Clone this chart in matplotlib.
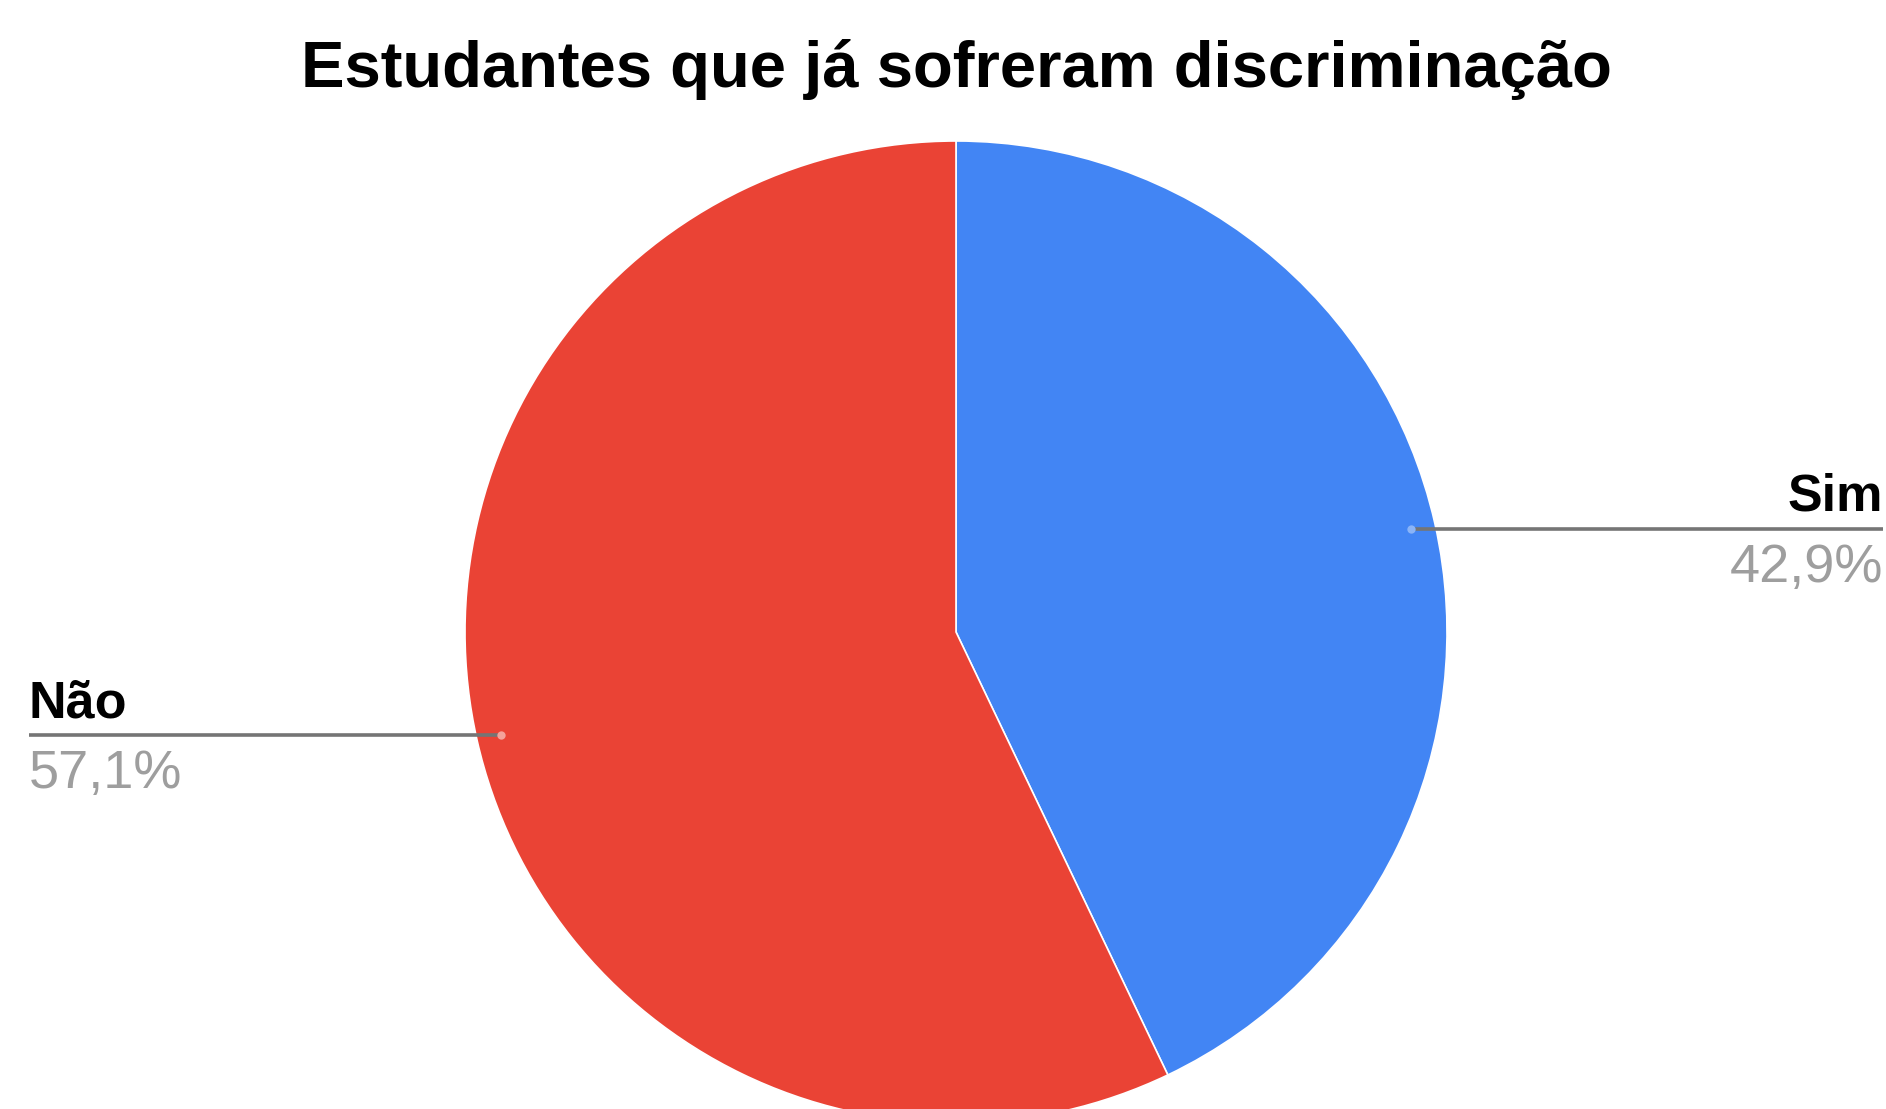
import numpy as np
import matplotlib
matplotlib.use("Agg")
import matplotlib.pyplot as plt

# Survey answers
title = "Estudantes que já sofreram discriminação"
categories = ["Sim", "Não"]
shares = [42.9, 57.1]
colors = ["#4285F4", "#EA4335"]
dot_colors = ["#8AB4F8", "#F4A29A"]

W, H = 1886, 1109
fig = plt.figure(figsize=(W / 100, H / 100), dpi=100)
ax = fig.add_axes([0, 0, 1, 1])

cx, cy, r = 956, H - 632, 491
wedges, _ = ax.pie(shares, colors=colors, startangle=90, counterclock=False,
                   center=(cx, cy), radius=r, frame=True,
                   wedgeprops=dict(edgecolor="white", linewidth=1.2))
ax.set_xlim(0, W)
ax.set_ylim(0, H)
ax.set_aspect("equal")
ax.axis("off")

fig.text(cx / W, 1 - 87 / H, title, ha="center", va="baseline",
         fontsize=47, fontweight="bold", family="Liberation Sans")

line_color = "#757575"
pct_color = "#9E9E9E"
for w, cat, val, dc in zip(wedges, categories, shares, dot_colors):
    mid = np.deg2rad((w.theta1 + w.theta2) / 2)
    px = cx + 0.95 * r * np.cos(mid)
    py = cy + 0.95 * r * np.sin(mid)
    pct = f"{val:.1f}%".replace(".", ",")
    if px > cx:
        x_end, ha = 1883, "right"
    else:
        x_end, ha = 29, "left"
    ax.plot([px, x_end], [py, py], color=line_color, lw=2.6,
            solid_capstyle="butt", zorder=3)
    ax.plot([px], [py], "o", ms=6, color=dc, mec="none", zorder=4)
    ax.text(x_end, py + 18, cat, ha=ha, va="baseline", fontsize=37.5,
            fontweight="bold", family="Liberation Sans", color="black")
    ax.text(x_end, py - 14, pct, ha=ha, va="top", fontsize=39,
            family="Liberation Sans", color=pct_color)

fig.savefig("out.png", dpi=100, facecolor="white")
